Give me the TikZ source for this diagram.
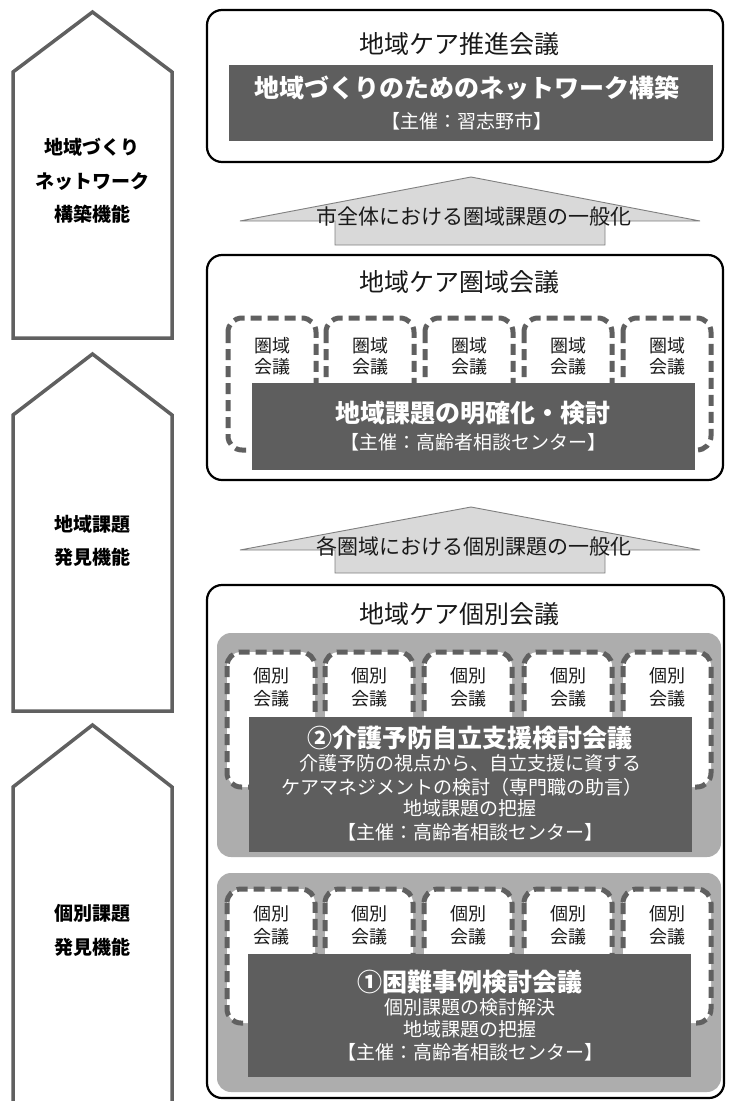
\documentclass[tikz,border=0pt]{standalone}
\usepackage{fontspec}
\setmainfont{Noto Sans CJK JP}
\begin{document}
\begin{tikzpicture}[x=1pt,y=-1pt,
  pent/.style={draw=penta,fill=white,line width=3.5pt,line join=miter},
  outerbox/.style={draw=black,line width=2.2pt,rounded corners=15pt,fill=white},
  darkbox/.style={fill=darkb},
  panel/.style={fill=panelg,rounded corners=14pt},
  dbox/.style={draw=penta,fill=white,line width=5pt,dash pattern=on 11pt off 6pt,rounded corners=14pt},
  uparrow/.style={fill=arrowg,draw=arrowb,line width=0.9pt},
  sidelbl/.style={font=\bfseries\fontsize{19}{21}\selectfont,text=black,inner sep=0pt},
  ttl/.style={font=\fontsize{25}{27}\selectfont,text=black!90,inner sep=0pt},
  dtitle/.style={font=\bfseries\fontsize{25}{27}\selectfont,text=white,inner sep=0pt},
  dsub/.style={font=\fontsize{19}{21}\selectfont,text=white,inner sep=0pt},
  small/.style={font=\fontsize{18}{20}\selectfont,text=black!90,inner sep=0pt},
  arrtxt/.style={font=\fontsize{21}{23}\selectfont,text=black!90,inner sep=0pt}]
\definecolor{penta}{HTML}{606060}
\definecolor{darkb}{HTML}{5E5E5E}
\definecolor{panelg}{HTML}{ADADAD}
\definecolor{arrowg}{HTML}{D9D9D9}
\definecolor{arrowb}{HTML}{7F7F7F}
\useasboundingbox (0,0) rectangle (730,1101);
\clip (0,0) rectangle (730,1101);

% left pentagons
\draw[pent] (13,338) -- (13,72) -- (92.5,12) -- (172,72) -- (172,338) -- cycle;
\draw[pent] (13,711) -- (13,415) -- (92.5,354) -- (172,415) -- (172,711) -- cycle;
\draw[pent] (13,1130) -- (13,787) -- (92.5,725) -- (172,787) -- (172,1130) -- cycle;
\node[sidelbl] (l1a) at (92.5,147) {地域づくり};
\node[sidelbl] (l1b) at (92.5,182) {ネットワーク};
\node[sidelbl] (l1c) at (92.5,214) {構築機能};
\node[sidelbl] (l2a) at (92.5,524) {地域課題};
\node[sidelbl] (l2b) at (92.5,557) {発見機能};
\node[sidelbl] (l3a) at (92.5,913) {個別課題};
\node[sidelbl] (l3b) at (92.5,947) {発見機能};

% top box
\draw[outerbox] (207,10) rectangle (723,162);
\node[ttl] (t1) at (459,44) {地域ケア推進会議};
\fill[darkbox] (229,65) rectangle (713,141);
\node[dtitle] (d1a) at (467,88) {地域づくりのためのネットワーク構築};
\node[dsub] (d1b) at (467,121) {【主催：習志野市】};

% arrow 1
\draw[uparrow] (471,177) -- (700,221) -- (605,221) -- (605,245) -- (335,245) -- (335,221) -- (240,221) -- cycle;
\node[arrtxt] (a1) at (474,216) {市全体における圏域課題の一般化};

% box 2
\draw[outerbox] (207,255) rectangle (723,480);
\node[ttl] (t2) at (459,282) {地域ケア圏域会議};
\foreach \c [count=\i] in {272,370,469,568,667}{
  \draw[dbox] (\c-44,318) rectangle (\c+44,450);
  \node[small] (k\i a) at (\c,346) {圏域};
  \node[small] (k\i b) at (\c,367) {会議};
}
\fill[darkbox] (252,383) rectangle (695,470);
\node[dtitle] (d2a) at (473,413) {地域課題の明確化・検討};
\node[dsub] (d2b) at (473,442) {【主催：高齢者相談センター】};

% arrow 2
\draw[uparrow] (471,507) -- (700,550) -- (605,550) -- (605,573) -- (335,573) -- (335,550) -- (240,550) -- cycle;
\node[arrtxt] (a2) at (474,546) {各圏域における個別課題の一般化};

% box 3
\draw[outerbox] (207,585) rectangle (724,1098);
\node[ttl] (t3) at (459,614) {地域ケア個別会議};

% panel 1
\fill[panel] (217,633) rectangle (721,857);
\foreach \c [count=\i] in {271,369,468,568,667}{
  \draw[dbox] (\c-44,652) rectangle (\c+44,787);
  \node[small] (p\i a) at (\c,676) {個別};
  \node[small] (p\i b) at (\c,699) {会議};
}
\fill[darkbox] (249,717) rectangle (692,852);
\node[dtitle] (d3a) at (470,738) {②介護予防自立支援検討会議};
\node[dsub] (d3b) at (470,763) {介護予防の視点から、自立支援に資する};
\node[dsub] (d3c) at (462,787) {ケアマネジメントの検討（専門職の助言）};
\node[dsub] (d3d) at (470,808) {地域課題の把握};
\node[dsub] (d3e) at (470,832) {【主催：高齢者相談センター】};

% panel 2
\fill[panel] (217,873) rectangle (721,1092);
\foreach \c [count=\i] in {271,369,468,568,667}{
  \draw[dbox] (\c-44,889) rectangle (\c+44,1023);
  \node[small] (q\i a) at (\c,914) {個別};
  \node[small] (q\i b) at (\c,937) {会議};
}
\fill[darkbox] (248,954) rectangle (691,1077);
\node[dtitle] (d4a) at (470,982) {①困難事例検討会議};
\node[dsub] (d4b) at (470,1007) {個別課題の検討解決};
\node[dsub] (d4c) at (470,1029) {地域課題の把握};
\node[dsub] (d4d) at (470,1052) {【主催：高齢者相談センター】};
\end{tikzpicture}
\end{document}
